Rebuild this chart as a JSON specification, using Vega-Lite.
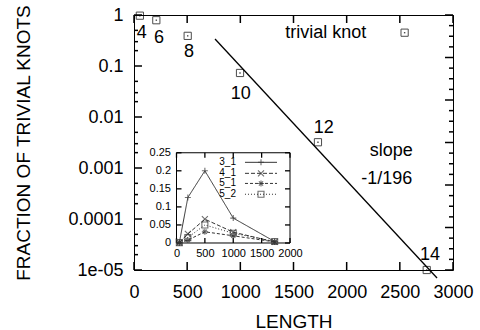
{
  "$schema": "https://vega.github.io/schema/vega-lite/v6.json",
  "width": 319,
  "height": 255,
  "autosize": "none",
  "padding": {"left": 134, "top": 15, "right": 27, "bottom": 60},
  "background": "white",
  "config": {
    "font": "Liberation Sans",
    "view": {"stroke": "black", "strokeWidth": 1},
    "axis": {
      "grid": false, "domain": false, "ticks": false, "tickSize": 0,
      "labelColor": "black", "labelFont": "Liberation Sans", "labelFontSize": 18,
      "labelFlush": false, "labelOverlap": false, "labelBound": false,
      "titleColor": "black", "titleFont": "Liberation Sans", "titleFontSize": 19, "titleFontWeight": "normal"
    }
  },
  "datasets": {
    "knots": [
      {"x": 55, "y": 0.97}, {"x": 210, "y": 0.79}, {"x": 505, "y": 0.39},
      {"x": 997, "y": 0.073}, {"x": 1730, "y": 0.0032}, {"x": 2753, "y": 0.00001},
      {"x": 2545, "y": 0.45}
    ],
    "labels": [
      {"t": "4", "x": 72, "y": 0.444}, {"t": "6", "x": 235, "y": 0.362},
      {"t": "8", "x": 517, "y": 0.19}, {"t": "10", "x": 1004, "y": 0.0282},
      {"t": "12", "x": 1784, "y": 0.006}, {"t": "14", "x": 2784, "y": 0.0000197},
      {"t": "trivial knot", "x": 1804, "y": 0.4375},
      {"t": "slope", "x": 2420, "y": 0.00217}, {"t": "-1/196", "x": 2376, "y": 0.000603}
    ],
    "fit": [{"x": 762, "y": 0.3384}, {"x": 2850, "y": 0.00000697}],
    "frame": [{"x": 0, "x2": 2000, "y": 0, "y2": 0.25}],
    "inset": [
      {"k": "3_1", "x": 50, "y": 0.001}, {"k": "3_1", "x": 200, "y": 0.126}, {"k": "3_1", "x": 500, "y": 0.2}, {"k": "3_1", "x": 1000, "y": 0.069}, {"k": "3_1", "x": 1730, "y": 0.004},
      {"k": "4_1", "x": 50, "y": 0.001}, {"k": "4_1", "x": 200, "y": 0.025}, {"k": "4_1", "x": 500, "y": 0.066}, {"k": "4_1", "x": 1000, "y": 0.03}, {"k": "4_1", "x": 1730, "y": 0.003},
      {"k": "5_1", "x": 50, "y": 0.0005}, {"k": "5_1", "x": 200, "y": 0.008}, {"k": "5_1", "x": 500, "y": 0.031}, {"k": "5_1", "x": 1000, "y": 0.02}, {"k": "5_1", "x": 1730, "y": 0.003},
      {"k": "5_2", "x": 50, "y": 0.001}, {"k": "5_2", "x": 200, "y": 0.015}, {"k": "5_2", "x": 500, "y": 0.05}, {"k": "5_2", "x": 1000, "y": 0.027}, {"k": "5_2", "x": 1730, "y": 0.004}
    ],
    "legend": [
      {"k": "3_1", "y": 0.2235}, {"k": "4_1", "y": 0.193}, {"k": "5_1", "y": 0.165}, {"k": "5_2", "y": 0.135}
    ],
    "xt": [{"v": 0}, {"v": 500}, {"v": 1000}, {"v": 1500}, {"v": 2000}, {"v": 2500}, {"v": 3000}],
    "ym": [{"v": 1}, {"v": 0.1}, {"v": 0.01}, {"v": 0.001}, {"v": 0.0001}, {"v": 0.00001}],
    "yn": [{"v": 0.5}, {"v": 0.3}, {"v": 0.2}, {"v": 0.05}, {"v": 0.03}, {"v": 0.02}, {"v": 0.005}, {"v": 0.003}, {"v": 0.002}, {"v": 0.0005}, {"v": 0.0003}, {"v": 0.0002}, {"v": 0.00005}, {"v": 0.00003}, {"v": 0.00002}],
    "yr": [{"v": 1}, {"v": 0.14678}, {"v": 0.021544}, {"v": 0.0031623}, {"v": 0.00046416}, {"v": 0.000068129}, {"v": 0.00001}],
    "yr2": [{"v": 0.61897}, {"v": 0.38312}, {"v": 0.23714}, {"v": 0.090852}, {"v": 0.056234}, {"v": 0.034807}, {"v": 0.013335}, {"v": 0.008254}, {"v": 0.005109}, {"v": 0.0019573}, {"v": 0.0012115}, {"v": 0.00074989}, {"v": 0.0002873}, {"v": 0.00017783}, {"v": 0.00011007}, {"v": 0.00004217}, {"v": 0.000026102}, {"v": 0.000016156}],
    "ixt": [{"v": 0}, {"v": 500}, {"v": 1000}, {"v": 1500}, {"v": 2000}],
    "iyt": [{"v": 0}, {"v": 0.05}, {"v": 0.1}, {"v": 0.15}, {"v": 0.2}, {"v": 0.25}]
  },
  "layer": [
    {
      "data": {"name": "fit"},
      "mark": {"type": "line", "color": "black", "strokeWidth": 1.3},
      "encoding": {
        "x": {"field": "x", "type": "quantitative",
          "scale": {"domain": [0, 3000], "nice": false, "zero": false},
          "axis": {"orient": "bottom", "values": [0, 500, 1000, 1500, 2000, 2500, 3000], "format": "d", "labelPadding": 13, "title": "LENGTH", "titlePadding": 11}},
        "y": {"field": "y", "type": "quantitative",
          "scale": {"type": "log", "domain": [0.00001, 1], "nice": false},
          "axis": {"orient": "left", "values": [1, 0.1, 0.01, 0.001, 0.0001, 0.00001], "labelPadding": 11,
            "labelExpr": "datum.value < 0.00005 ? '1e-05' : format(datum.value, '~g')",
            "title": "FRACTION OF TRIVIAL KNOTS", "titlePadding": 34}}
      }
    },
    {
      "data": {"name": "xt"},
      "mark": {"type": "rule", "color": "black", "strokeWidth": 1.5},
      "encoding": {
        "x": {"field": "v", "type": "quantitative", "scale": {"domain": [0, 3000], "nice": false, "zero": false}, "axis": null},
        "y": {"datum": 0.00001, "type": "quantitative", "scale": {"type": "log", "domain": [0.00001, 1], "nice": false}, "axis": null},
        "y2": {"datum": 0.00001435}
      }
    },
    {
      "data": {"name": "xt"},
      "mark": {"type": "rule", "color": "black", "strokeWidth": 1.5},
      "encoding": {
        "x": {"field": "v", "type": "quantitative", "scale": {"domain": [0, 3000], "nice": false, "zero": false}, "axis": null},
        "y": {"datum": 1, "type": "quantitative", "scale": {"type": "log", "domain": [0.00001, 1], "nice": false}, "axis": null},
        "y2": {"datum": 0.6968}
      }
    },
    {
      "data": {"name": "ym"},
      "mark": {"type": "rule", "color": "black", "strokeWidth": 1.5},
      "encoding": {
        "y": {"field": "v", "type": "quantitative", "scale": {"type": "log", "domain": [0.00001, 1], "nice": false}, "axis": null},
        "x": {"datum": 0, "type": "quantitative", "scale": {"domain": [0, 3000], "nice": false, "zero": false}, "axis": null},
        "x2": {"datum": 75.2}
      }
    },
    {
      "data": {"name": "yn"},
      "mark": {"type": "rule", "color": "black", "strokeWidth": 1.5},
      "encoding": {
        "y": {"field": "v", "type": "quantitative", "scale": {"type": "log", "domain": [0.00001, 1], "nice": false}, "axis": null},
        "x": {"datum": 0, "type": "quantitative", "scale": {"domain": [0, 3000], "nice": false, "zero": false}, "axis": null},
        "x2": {"datum": 37.6}
      }
    },
    {
      "data": {"name": "yr"},
      "mark": {"type": "rule", "color": "black", "strokeWidth": 1.5},
      "encoding": {
        "y": {"field": "v", "type": "quantitative", "scale": {"type": "log", "domain": [0.00001, 1], "nice": false}, "axis": null},
        "x": {"datum": 3000, "type": "quantitative", "scale": {"domain": [0, 3000], "nice": false, "zero": false}, "axis": null},
        "x2": {"datum": 2924.8}
      }
    },
    {
      "data": {"name": "yr2"},
      "mark": {"type": "rule", "color": "black", "strokeWidth": 1.5},
      "encoding": {
        "y": {"field": "v", "type": "quantitative", "scale": {"type": "log", "domain": [0.00001, 1], "nice": false}, "axis": null},
        "x": {"datum": 3000, "type": "quantitative", "scale": {"domain": [0, 3000], "nice": false, "zero": false}, "axis": null},
        "x2": {"datum": 2962.4}
      }
    },
    {
      "data": {"name": "knots"},
      "mark": {"type": "point", "shape": "square", "filled": false, "size": 52, "stroke": "black", "strokeWidth": 1},
      "encoding": {
        "x": {"field": "x", "type": "quantitative", "scale": {"domain": [0, 3000], "nice": false, "zero": false}, "axis": null},
        "y": {"field": "y", "type": "quantitative", "scale": {"type": "log", "domain": [0.00001, 1], "nice": false}, "axis": null}
      }
    },
    {
      "data": {"name": "knots"},
      "mark": {"type": "point", "shape": "square", "filled": true, "size": 2, "color": "black"},
      "encoding": {
        "x": {"field": "x", "type": "quantitative", "scale": {"domain": [0, 3000], "nice": false, "zero": false}, "axis": null},
        "y": {"field": "y", "type": "quantitative", "scale": {"type": "log", "domain": [0.00001, 1], "nice": false}, "axis": null}
      }
    },
    {
      "data": {"name": "labels"},
      "mark": {"type": "text", "fontSize": 18, "font": "Liberation Sans", "color": "black", "align": "center", "baseline": "middle"},
      "encoding": {
        "x": {"field": "x", "type": "quantitative", "scale": {"domain": [0, 3000], "nice": false, "zero": false}, "axis": null},
        "y": {"field": "y", "type": "quantitative", "scale": {"type": "log", "domain": [0.00001, 1], "nice": false}, "axis": null},
        "text": {"field": "t"}
      }
    },
    {
      "data": {"name": "frame"},
      "mark": {"type": "rect", "fill": "white", "fillOpacity": 0, "stroke": "black", "strokeWidth": 1},
      "encoding": {
        "x": {"field": "x", "type": "quantitative",
          "scale": {"domain": [-748.9, 4872.2], "nice": false, "zero": false},
          "axis": {"orient": "bottom", "offset": -27, "values": [0, 500, 1000, 1500, 2000], "format": "d", "labelPadding": 4, "labelFontSize": 11, "title": null}},
        "x2": {"field": "x2"},
        "y": {"field": "y", "type": "quantitative",
          "scale": {"domain": [-0.0748, 0.6316], "nice": false, "zero": false},
          "axis": {"orient": "left", "offset": -42.5, "values": [0, 0.05, 0.1, 0.15, 0.2, 0.25], "labelExpr": "format(datum.value, '~g')", "labelPadding": 6, "labelFontSize": 11, "title": null}},
        "y2": {"field": "y2"}
      }
    },
    {
      "data": {"name": "ixt"},
      "mark": {"type": "rule", "color": "black", "strokeWidth": 1.3},
      "encoding": {
        "x": {"field": "v", "type": "quantitative", "scale": {"domain": [-748.9, 4872.2], "nice": false, "zero": false}, "axis": null},
        "y": {"datum": 0, "type": "quantitative", "scale": {"domain": [-0.0748, 0.6316], "nice": false, "zero": false}, "axis": null},
        "y2": {"datum": 0.01385}
      }
    },
    {
      "data": {"name": "ixt"},
      "mark": {"type": "rule", "color": "black", "strokeWidth": 1.3},
      "encoding": {
        "x": {"field": "v", "type": "quantitative", "scale": {"domain": [-748.9, 4872.2], "nice": false, "zero": false}, "axis": null},
        "y": {"datum": 0.25, "type": "quantitative", "scale": {"domain": [-0.0748, 0.6316], "nice": false, "zero": false}, "axis": null},
        "y2": {"datum": 0.23615}
      }
    },
    {
      "data": {"name": "iyt"},
      "mark": {"type": "rule", "color": "black", "strokeWidth": 1.3},
      "encoding": {
        "y": {"field": "v", "type": "quantitative", "scale": {"domain": [-0.0748, 0.6316], "nice": false, "zero": false}, "axis": null},
        "x": {"datum": 0, "type": "quantitative", "scale": {"domain": [-748.9, 4872.2], "nice": false, "zero": false}, "axis": null},
        "x2": {"datum": 88.1}
      }
    },
    {
      "data": {"name": "iyt"},
      "mark": {"type": "rule", "color": "black", "strokeWidth": 1.3},
      "encoding": {
        "y": {"field": "v", "type": "quantitative", "scale": {"domain": [-0.0748, 0.6316], "nice": false, "zero": false}, "axis": null},
        "x": {"datum": 2000, "type": "quantitative", "scale": {"domain": [-748.9, 4872.2], "nice": false, "zero": false}, "axis": null},
        "x2": {"datum": 1911.9}
      }
    },
    {
      "data": {"name": "inset"},
      "mark": {"type": "line", "color": "#333333", "strokeWidth": 1},
      "encoding": {
        "x": {"field": "x", "type": "quantitative", "scale": {"domain": [-748.9, 4872.2], "nice": false, "zero": false}, "axis": null},
        "y": {"field": "y", "type": "quantitative", "scale": {"domain": [-0.0748, 0.6316], "nice": false, "zero": false}, "axis": null},
        "strokeDash": {"field": "k", "type": "nominal",
          "scale": {"domain": ["3_1", "4_1", "5_1", "5_2"], "range": [[1, 0], [4, 2], [3, 2], [1, 2]]}, "legend": null},
        "detail": {"field": "k"}
      }
    },
    {
      "data": {"name": "inset"},
      "mark": {"type": "point", "filled": false, "size": 36, "stroke": "#333333", "strokeWidth": 1.1},
      "encoding": {
        "x": {"field": "x", "type": "quantitative", "scale": {"domain": [-748.9, 4872.2], "nice": false, "zero": false}, "axis": null},
        "y": {"field": "y", "type": "quantitative", "scale": {"domain": [-0.0748, 0.6316], "nice": false, "zero": false}, "axis": null},
        "shape": {"field": "k", "type": "nominal",
          "scale": {"domain": ["3_1", "4_1", "5_1", "5_2"], "range": ["M-1,0H1M0,-1V1", "M-1,-1L1,1M-1,1L1,-1", "M-1,0H1M0,-1V1M-0.7,-0.7L0.7,0.7M-0.7,0.7L0.7,-0.7", "square"]}, "legend": null}
      }
    },
    {
      "data": {"name": "legend"},
      "mark": {"type": "text", "fontSize": 10, "font": "Liberation Sans", "color": "black", "align": "right", "baseline": "middle"},
      "encoding": {
        "x": {"datum": 1048, "type": "quantitative", "scale": {"domain": [-748.9, 4872.2], "nice": false, "zero": false}, "axis": null},
        "y": {"field": "y", "type": "quantitative", "scale": {"domain": [-0.0748, 0.6316], "nice": false, "zero": false}, "axis": null},
        "text": {"field": "k"}
      }
    },
    {
      "data": {"name": "legend"},
      "mark": {"type": "rule", "color": "#333333", "strokeWidth": 1},
      "encoding": {
        "x": {"datum": 1207, "type": "quantitative", "scale": {"domain": [-748.9, 4872.2], "nice": false, "zero": false}, "axis": null},
        "x2": {"datum": 1771},
        "y": {"field": "y", "type": "quantitative", "scale": {"domain": [-0.0748, 0.6316], "nice": false, "zero": false}, "axis": null},
        "strokeDash": {"field": "k", "type": "nominal",
          "scale": {"domain": ["3_1", "4_1", "5_1", "5_2"], "range": [[1, 0], [4, 2], [3, 2], [1, 2]]}, "legend": null}
      }
    },
    {
      "data": {"name": "legend"},
      "mark": {"type": "point", "filled": false, "size": 36, "stroke": "#333333", "strokeWidth": 1.1},
      "encoding": {
        "x": {"datum": 1489, "type": "quantitative", "scale": {"domain": [-748.9, 4872.2], "nice": false, "zero": false}, "axis": null},
        "y": {"field": "y", "type": "quantitative", "scale": {"domain": [-0.0748, 0.6316], "nice": false, "zero": false}, "axis": null},
        "shape": {"field": "k", "type": "nominal",
          "scale": {"domain": ["3_1", "4_1", "5_1", "5_2"], "range": ["M-1,0H1M0,-1V1", "M-1,-1L1,1M-1,1L1,-1", "M-1,0H1M0,-1V1M-0.7,-0.7L0.7,0.7M-0.7,0.7L0.7,-0.7", "square"]}, "legend": null}
      }
    }
  ],
  "resolve": {
    "scale": {"x": "independent", "y": "independent", "shape": "independent", "strokeDash": "independent"},
    "axis": {"x": "independent", "y": "independent"}
  }
}
